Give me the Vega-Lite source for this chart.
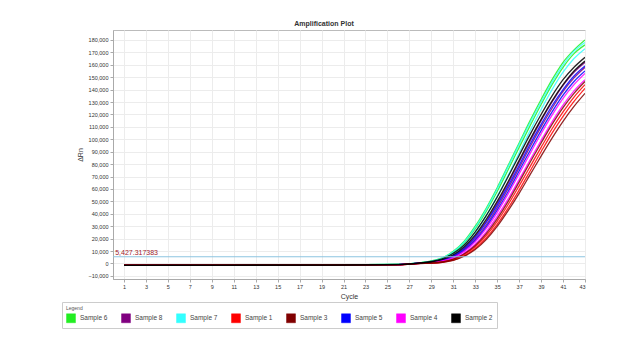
{
  "$schema": "https://vega.github.io/schema/vega-lite/v6.json",
  "width": 472,
  "height": 249,
  "autosize": {"type": "none"},
  "padding": {"left": 113, "top": 30, "right": 59, "bottom": 68},
  "background": "white",
  "title": {"text": "Amplification Plot", "fontSize": 7, "fontWeight": "bold", "color": "#333", "font": "Liberation Sans", "anchor": "middle", "dx": -25, "offset": 3},
  "config": {
    "font": "Liberation Sans",
    "view": {"stroke": "#bbbbbb", "strokeWidth": 1},
    "axis": {"labelFontSize": 6, "labelColor": "#333", "titleFontSize": 7, "titleColor": "#333", "titleFontWeight": "normal", "domainColor": "#aaa", "tickColor": "#aaa", "tickSize": 3, "gridColor": "#ececec", "gridWidth": 1}
  },
  "datasets": {
    "runs": [
      {"s":"Sample 6","r":"a","c":1,"v":-1400},{"s":"Sample 6","r":"a","c":10,"v":-1300},{"s":"Sample 6","r":"a","c":20,"v":-1200},{"s":"Sample 6","r":"a","c":26,"v":-700},
      {"s":"Sample 6","r":"a","c":28,"v":700},{"s":"Sample 6","r":"a","c":29,"v":2000},{"s":"Sample 6","r":"a","c":30,"v":4600},{"s":"Sample 6","r":"a","c":31,"v":9800},{"s":"Sample 6","r":"a","c":32,"v":18000},{"s":"Sample 6","r":"a","c":33,"v":30000},{"s":"Sample 6","r":"a","c":34,"v":44500},{"s":"Sample 6","r":"a","c":35,"v":61000},{"s":"Sample 6","r":"a","c":36,"v":79000},{"s":"Sample 6","r":"a","c":37,"v":97000},{"s":"Sample 6","r":"a","c":38,"v":115000},{"s":"Sample 6","r":"a","c":39,"v":132000},{"s":"Sample 6","r":"a","c":40,"v":148000},{"s":"Sample 6","r":"a","c":41,"v":162000},{"s":"Sample 6","r":"a","c":42,"v":172000},{"s":"Sample 6","r":"a","c":43,"v":180000},
      {"s":"Sample 6","r":"b","c":1,"v":-1300},{"s":"Sample 6","r":"b","c":10,"v":-1250},{"s":"Sample 6","r":"b","c":20,"v":-1150},{"s":"Sample 6","r":"b","c":26,"v":-750},
      {"s":"Sample 6","r":"b","c":28,"v":600},{"s":"Sample 6","r":"b","c":29,"v":1700},{"s":"Sample 6","r":"b","c":30,"v":4000},{"s":"Sample 6","r":"b","c":31,"v":8800},{"s":"Sample 6","r":"b","c":32,"v":16500},{"s":"Sample 6","r":"b","c":33,"v":28000},{"s":"Sample 6","r":"b","c":34,"v":42000},{"s":"Sample 6","r":"b","c":35,"v":58000},{"s":"Sample 6","r":"b","c":36,"v":75500},{"s":"Sample 6","r":"b","c":37,"v":93500},{"s":"Sample 6","r":"b","c":38,"v":111000},{"s":"Sample 6","r":"b","c":39,"v":128000},{"s":"Sample 6","r":"b","c":40,"v":144000},{"s":"Sample 6","r":"b","c":41,"v":158000},{"s":"Sample 6","r":"b","c":42,"v":169000},{"s":"Sample 6","r":"b","c":43,"v":176000},
      {"s":"Sample 7","r":"a","c":1,"v":-1350},{"s":"Sample 7","r":"a","c":10,"v":-1300},{"s":"Sample 7","r":"a","c":20,"v":-1200},{"s":"Sample 7","r":"a","c":26,"v":-700},
      {"s":"Sample 7","r":"a","c":28,"v":650},{"s":"Sample 7","r":"a","c":29,"v":1900},{"s":"Sample 7","r":"a","c":30,"v":4400},{"s":"Sample 7","r":"a","c":31,"v":9400},{"s":"Sample 7","r":"a","c":32,"v":17300},{"s":"Sample 7","r":"a","c":33,"v":29000},{"s":"Sample 7","r":"a","c":34,"v":43500},{"s":"Sample 7","r":"a","c":35,"v":60000},{"s":"Sample 7","r":"a","c":36,"v":78000},{"s":"Sample 7","r":"a","c":37,"v":96000},{"s":"Sample 7","r":"a","c":38,"v":113500},{"s":"Sample 7","r":"a","c":39,"v":130000},{"s":"Sample 7","r":"a","c":40,"v":146000},{"s":"Sample 7","r":"a","c":41,"v":160000},{"s":"Sample 7","r":"a","c":42,"v":171000},{"s":"Sample 7","r":"a","c":43,"v":178000},
      {"s":"Sample 7","r":"b","c":1,"v":-1250},{"s":"Sample 7","r":"b","c":10,"v":-1200},{"s":"Sample 7","r":"b","c":20,"v":-1100},{"s":"Sample 7","r":"b","c":26,"v":-800},
      {"s":"Sample 7","r":"b","c":28,"v":500},{"s":"Sample 7","r":"b","c":29,"v":1400},{"s":"Sample 7","r":"b","c":30,"v":3400},{"s":"Sample 7","r":"b","c":31,"v":7600},{"s":"Sample 7","r":"b","c":32,"v":14500},{"s":"Sample 7","r":"b","c":33,"v":25000},{"s":"Sample 7","r":"b","c":34,"v":38500},{"s":"Sample 7","r":"b","c":35,"v":54000},{"s":"Sample 7","r":"b","c":36,"v":71000},{"s":"Sample 7","r":"b","c":37,"v":89000},{"s":"Sample 7","r":"b","c":38,"v":107000},{"s":"Sample 7","r":"b","c":39,"v":124000},{"s":"Sample 7","r":"b","c":40,"v":140000},{"s":"Sample 7","r":"b","c":41,"v":154000},{"s":"Sample 7","r":"b","c":42,"v":165000},{"s":"Sample 7","r":"b","c":43,"v":173000},
      {"s":"Sample 8","r":"a","c":1,"v":-1450},{"s":"Sample 8","r":"a","c":10,"v":-1350},{"s":"Sample 8","r":"a","c":20,"v":-1250},{"s":"Sample 8","r":"a","c":26,"v":-850},
      {"s":"Sample 8","r":"a","c":28,"v":400},{"s":"Sample 8","r":"a","c":29,"v":1100},{"s":"Sample 8","r":"a","c":30,"v":2800},{"s":"Sample 8","r":"a","c":31,"v":6400},{"s":"Sample 8","r":"a","c":32,"v":12500},{"s":"Sample 8","r":"a","c":33,"v":22000},{"s":"Sample 8","r":"a","c":34,"v":34000},{"s":"Sample 8","r":"a","c":35,"v":48500},{"s":"Sample 8","r":"a","c":36,"v":64500},{"s":"Sample 8","r":"a","c":37,"v":81500},{"s":"Sample 8","r":"a","c":38,"v":98500},{"s":"Sample 8","r":"a","c":39,"v":115000},{"s":"Sample 8","r":"a","c":40,"v":130000},{"s":"Sample 8","r":"a","c":41,"v":143500},{"s":"Sample 8","r":"a","c":42,"v":154000},{"s":"Sample 8","r":"a","c":43,"v":162000},
      {"s":"Sample 8","r":"b","c":1,"v":-1300},{"s":"Sample 8","r":"b","c":10,"v":-1250},{"s":"Sample 8","r":"b","c":20,"v":-1200},{"s":"Sample 8","r":"b","c":26,"v":-900},
      {"s":"Sample 8","r":"b","c":28,"v":300},{"s":"Sample 8","r":"b","c":29,"v":900},{"s":"Sample 8","r":"b","c":30,"v":2300},{"s":"Sample 8","r":"b","c":31,"v":5500},{"s":"Sample 8","r":"b","c":32,"v":11000},{"s":"Sample 8","r":"b","c":33,"v":19500},{"s":"Sample 8","r":"b","c":34,"v":31000},{"s":"Sample 8","r":"b","c":35,"v":45000},{"s":"Sample 8","r":"b","c":36,"v":60500},{"s":"Sample 8","r":"b","c":37,"v":77000},{"s":"Sample 8","r":"b","c":38,"v":94000},{"s":"Sample 8","r":"b","c":39,"v":110000},{"s":"Sample 8","r":"b","c":40,"v":125000},{"s":"Sample 8","r":"b","c":41,"v":138500},{"s":"Sample 8","r":"b","c":42,"v":149500},{"s":"Sample 8","r":"b","c":43,"v":158000},
      {"s":"Sample 5","r":"a","c":1,"v":-1400},{"s":"Sample 5","r":"a","c":10,"v":-1300},{"s":"Sample 5","r":"a","c":20,"v":-1200},{"s":"Sample 5","r":"a","c":26,"v":-850},
      {"s":"Sample 5","r":"a","c":28,"v":350},{"s":"Sample 5","r":"a","c":29,"v":1000},{"s":"Sample 5","r":"a","c":30,"v":2600},{"s":"Sample 5","r":"a","c":31,"v":6000},{"s":"Sample 5","r":"a","c":32,"v":11800},{"s":"Sample 5","r":"a","c":33,"v":21000},{"s":"Sample 5","r":"a","c":34,"v":33000},{"s":"Sample 5","r":"a","c":35,"v":47000},{"s":"Sample 5","r":"a","c":36,"v":62500},{"s":"Sample 5","r":"a","c":37,"v":79000},{"s":"Sample 5","r":"a","c":38,"v":96000},{"s":"Sample 5","r":"a","c":39,"v":112000},{"s":"Sample 5","r":"a","c":40,"v":127000},{"s":"Sample 5","r":"a","c":41,"v":140000},{"s":"Sample 5","r":"a","c":42,"v":151000},{"s":"Sample 5","r":"a","c":43,"v":159000},
      {"s":"Sample 5","r":"b","c":1,"v":-1350},{"s":"Sample 5","r":"b","c":10,"v":-1300},{"s":"Sample 5","r":"b","c":20,"v":-1150},{"s":"Sample 5","r":"b","c":26,"v":-900},
      {"s":"Sample 5","r":"b","c":28,"v":250},{"s":"Sample 5","r":"b","c":29,"v":800},{"s":"Sample 5","r":"b","c":30,"v":2100},{"s":"Sample 5","r":"b","c":31,"v":5000},{"s":"Sample 5","r":"b","c":32,"v":10200},{"s":"Sample 5","r":"b","c":33,"v":18500},{"s":"Sample 5","r":"b","c":34,"v":29500},{"s":"Sample 5","r":"b","c":35,"v":43000},{"s":"Sample 5","r":"b","c":36,"v":58000},{"s":"Sample 5","r":"b","c":37,"v":74500},{"s":"Sample 5","r":"b","c":38,"v":91000},{"s":"Sample 5","r":"b","c":39,"v":107000},{"s":"Sample 5","r":"b","c":40,"v":122000},{"s":"Sample 5","r":"b","c":41,"v":135500},{"s":"Sample 5","r":"b","c":42,"v":146500},{"s":"Sample 5","r":"b","c":43,"v":155000},
      {"s":"Sample 4","r":"a","c":1,"v":-1300},{"s":"Sample 4","r":"a","c":10,"v":-1250},{"s":"Sample 4","r":"a","c":20,"v":-1150},{"s":"Sample 4","r":"a","c":26,"v":-900},
      {"s":"Sample 4","r":"a","c":28,"v":250},{"s":"Sample 4","r":"a","c":29,"v":750},{"s":"Sample 4","r":"a","c":30,"v":2000},{"s":"Sample 4","r":"a","c":31,"v":4800},{"s":"Sample 4","r":"a","c":32,"v":9800},{"s":"Sample 4","r":"a","c":33,"v":17500},{"s":"Sample 4","r":"a","c":34,"v":28000},{"s":"Sample 4","r":"a","c":35,"v":41000},{"s":"Sample 4","r":"a","c":36,"v":56000},{"s":"Sample 4","r":"a","c":37,"v":72000},{"s":"Sample 4","r":"a","c":38,"v":88500},{"s":"Sample 4","r":"a","c":39,"v":104500},{"s":"Sample 4","r":"a","c":40,"v":119500},{"s":"Sample 4","r":"a","c":41,"v":133000},{"s":"Sample 4","r":"a","c":42,"v":144000},{"s":"Sample 4","r":"a","c":43,"v":153000},
      {"s":"Sample 4","r":"b","c":1,"v":-1400},{"s":"Sample 4","r":"b","c":10,"v":-1350},{"s":"Sample 4","r":"b","c":20,"v":-1250},{"s":"Sample 4","r":"b","c":26,"v":-950},
      {"s":"Sample 4","r":"b","c":28,"v":150},{"s":"Sample 4","r":"b","c":29,"v":550},{"s":"Sample 4","r":"b","c":30,"v":1600},{"s":"Sample 4","r":"b","c":31,"v":4000},{"s":"Sample 4","r":"b","c":32,"v":8500},{"s":"Sample 4","r":"b","c":33,"v":15500},{"s":"Sample 4","r":"b","c":34,"v":25500},{"s":"Sample 4","r":"b","c":35,"v":38000},{"s":"Sample 4","r":"b","c":36,"v":52000},{"s":"Sample 4","r":"b","c":37,"v":67500},{"s":"Sample 4","r":"b","c":38,"v":83500},{"s":"Sample 4","r":"b","c":39,"v":99000},{"s":"Sample 4","r":"b","c":40,"v":114000},{"s":"Sample 4","r":"b","c":41,"v":127500},{"s":"Sample 4","r":"b","c":42,"v":139000},{"s":"Sample 4","r":"b","c":43,"v":148000},
      {"s":"Sample 1","r":"a","c":1,"v":-1350},{"s":"Sample 1","r":"a","c":10,"v":-1300},{"s":"Sample 1","r":"a","c":20,"v":-1200},{"s":"Sample 1","r":"a","c":26,"v":-1000},
      {"s":"Sample 1","r":"a","c":28,"v":100},{"s":"Sample 1","r":"a","c":29,"v":400},{"s":"Sample 1","r":"a","c":30,"v":1200},{"s":"Sample 1","r":"a","c":31,"v":3200},{"s":"Sample 1","r":"a","c":32,"v":7200},{"s":"Sample 1","r":"a","c":33,"v":13500},{"s":"Sample 1","r":"a","c":34,"v":22500},{"s":"Sample 1","r":"a","c":35,"v":34000},{"s":"Sample 1","r":"a","c":36,"v":47500},{"s":"Sample 1","r":"a","c":37,"v":62500},{"s":"Sample 1","r":"a","c":38,"v":78000},{"s":"Sample 1","r":"a","c":39,"v":93500},{"s":"Sample 1","r":"a","c":40,"v":108500},{"s":"Sample 1","r":"a","c":41,"v":122000},{"s":"Sample 1","r":"a","c":42,"v":134000},{"s":"Sample 1","r":"a","c":43,"v":144000},
      {"s":"Sample 1","r":"b","c":1,"v":-1250},{"s":"Sample 1","r":"b","c":10,"v":-1200},{"s":"Sample 1","r":"b","c":20,"v":-1150},{"s":"Sample 1","r":"b","c":26,"v":-1000},
      {"s":"Sample 1","r":"b","c":28,"v":50},{"s":"Sample 1","r":"b","c":29,"v":300},{"s":"Sample 1","r":"b","c":30,"v":1000},{"s":"Sample 1","r":"b","c":31,"v":2700},{"s":"Sample 1","r":"b","c":32,"v":6300},{"s":"Sample 1","r":"b","c":33,"v":12000},{"s":"Sample 1","r":"b","c":34,"v":20500},{"s":"Sample 1","r":"b","c":35,"v":31500},{"s":"Sample 1","r":"b","c":36,"v":44500},{"s":"Sample 1","r":"b","c":37,"v":59000},{"s":"Sample 1","r":"b","c":38,"v":74500},{"s":"Sample 1","r":"b","c":39,"v":90000},{"s":"Sample 1","r":"b","c":40,"v":105000},{"s":"Sample 1","r":"b","c":41,"v":118500},{"s":"Sample 1","r":"b","c":42,"v":130500},{"s":"Sample 1","r":"b","c":43,"v":141000},
      {"s":"Sample 3","r":"a","c":1,"v":-1400},{"s":"Sample 3","r":"a","c":10,"v":-1300},{"s":"Sample 3","r":"a","c":20,"v":-1250},{"s":"Sample 3","r":"a","c":26,"v":-950},
      {"s":"Sample 3","r":"a","c":28,"v":120},{"s":"Sample 3","r":"a","c":29,"v":450},{"s":"Sample 3","r":"a","c":30,"v":1300},{"s":"Sample 3","r":"a","c":31,"v":3500},{"s":"Sample 3","r":"a","c":32,"v":7800},{"s":"Sample 3","r":"a","c":33,"v":14500},{"s":"Sample 3","r":"a","c":34,"v":24000},{"s":"Sample 3","r":"a","c":35,"v":36000},{"s":"Sample 3","r":"a","c":36,"v":50000},{"s":"Sample 3","r":"a","c":37,"v":65500},{"s":"Sample 3","r":"a","c":38,"v":81500},{"s":"Sample 3","r":"a","c":39,"v":97000},{"s":"Sample 3","r":"a","c":40,"v":112000},{"s":"Sample 3","r":"a","c":41,"v":125500},{"s":"Sample 3","r":"a","c":42,"v":137000},{"s":"Sample 3","r":"a","c":43,"v":146500},
      {"s":"Sample 3","r":"b","c":1,"v":-1300},{"s":"Sample 3","r":"b","c":10,"v":-1250},{"s":"Sample 3","r":"b","c":20,"v":-1200},{"s":"Sample 3","r":"b","c":26,"v":-1050},
      {"s":"Sample 3","r":"b","c":28,"v":0},{"s":"Sample 3","r":"b","c":29,"v":250},{"s":"Sample 3","r":"b","c":30,"v":900},{"s":"Sample 3","r":"b","c":31,"v":2500},{"s":"Sample 3","r":"b","c":32,"v":5800},{"s":"Sample 3","r":"b","c":33,"v":11200},{"s":"Sample 3","r":"b","c":34,"v":19200},{"s":"Sample 3","r":"b","c":35,"v":29800},{"s":"Sample 3","r":"b","c":36,"v":42500},{"s":"Sample 3","r":"b","c":37,"v":56500},{"s":"Sample 3","r":"b","c":38,"v":71500},{"s":"Sample 3","r":"b","c":39,"v":86500},{"s":"Sample 3","r":"b","c":40,"v":101000},{"s":"Sample 3","r":"b","c":41,"v":114500},{"s":"Sample 3","r":"b","c":42,"v":126500},{"s":"Sample 3","r":"b","c":43,"v":137000},
      {"s":"Sample 2","r":"a","c":1,"v":-1500},{"s":"Sample 2","r":"a","c":10,"v":-1450},{"s":"Sample 2","r":"a","c":20,"v":-1350},{"s":"Sample 2","r":"a","c":26,"v":-800},
      {"s":"Sample 2","r":"a","c":28,"v":550},{"s":"Sample 2","r":"a","c":29,"v":1600},{"s":"Sample 2","r":"a","c":30,"v":3800},{"s":"Sample 2","r":"a","c":31,"v":8200},{"s":"Sample 2","r":"a","c":32,"v":15000},{"s":"Sample 2","r":"a","c":33,"v":25500},{"s":"Sample 2","r":"a","c":34,"v":38500},{"s":"Sample 2","r":"a","c":35,"v":53500},{"s":"Sample 2","r":"a","c":36,"v":70000},{"s":"Sample 2","r":"a","c":37,"v":87000},{"s":"Sample 2","r":"a","c":38,"v":104000},{"s":"Sample 2","r":"a","c":39,"v":120000},{"s":"Sample 2","r":"a","c":40,"v":135000},{"s":"Sample 2","r":"a","c":41,"v":148000},{"s":"Sample 2","r":"a","c":42,"v":158000},{"s":"Sample 2","r":"a","c":43,"v":166000},
      {"s":"Sample 2","r":"b","c":1,"v":-1450},{"s":"Sample 2","r":"b","c":10,"v":-1400},{"s":"Sample 2","r":"b","c":20,"v":-1300},{"s":"Sample 2","r":"b","c":26,"v":-850},
      {"s":"Sample 2","r":"b","c":28,"v":450},{"s":"Sample 2","r":"b","c":29,"v":1300},{"s":"Sample 2","r":"b","c":30,"v":3200},{"s":"Sample 2","r":"b","c":31,"v":7000},{"s":"Sample 2","r":"b","c":32,"v":13500},{"s":"Sample 2","r":"b","c":33,"v":23000},{"s":"Sample 2","r":"b","c":34,"v":35500},{"s":"Sample 2","r":"b","c":35,"v":50000},{"s":"Sample 2","r":"b","c":36,"v":66000},{"s":"Sample 2","r":"b","c":37,"v":83000},{"s":"Sample 2","r":"b","c":38,"v":100000},{"s":"Sample 2","r":"b","c":39,"v":116000},{"s":"Sample 2","r":"b","c":40,"v":131000},{"s":"Sample 2","r":"b","c":41,"v":144000},{"s":"Sample 2","r":"b","c":42,"v":155000},{"s":"Sample 2","r":"b","c":43,"v":163000}
    ],
    "threshold": [{"t": 5427.317383, "lbl": "5,427.317383"}]
  },
  "layer": [
    {
      "data": {"name": "runs"},
      "mark": {"type": "line", "interpolate": "monotone", "strokeWidth": 1.3, "opacity": 0.85, "clip": true},
      "encoding": {
        "x": {"field": "c", "type": "quantitative", "title": "Cycle",
              "scale": {"domain": [0, 43], "nice": false, "zero": false},
              "axis": {"values": [1,3,5,7,9,11,13,15,17,19,21,23,25,27,29,31,33,35,37,39,41,43], "tickCount": 60, "labelOverlap": false, "labelFontSize": 5.5, "labelPadding": 2, "titlePadding": 3}},
        "y": {"field": "v", "type": "quantitative", "title": "ΔRn",
              "scale": {"domain": [-12500, 188000], "nice": false, "zero": false},
              "axis": {"values": [-10000,0,10000,20000,30000,40000,50000,60000,70000,80000,90000,100000,110000,120000,130000,140000,150000,160000,170000,180000], "tickCount": 60, "format": ",.0f", "labelOverlap": false, "labelFontSize": 5.5, "labelPadding": 2, "titlePadding": 4}},
        "color": {"field": "s", "type": "nominal",
                  "scale": {"domain": ["Sample 6","Sample 8","Sample 7","Sample 1","Sample 3","Sample 5","Sample 4","Sample 2"],
                            "range": ["#22ee22","#800080","#33ffff","#ff0000","#800000","#0000ff","#ff00ff","#000000"]},
                  "legend": {"title": "Legend", "orient": "none", "legendX": -51, "legendY": 272, "direction": "horizontal", "columns": 8,
                             "symbolType": "square", "symbolSize": 80, "symbolStrokeWidth": 0.5, "symbolOpacity": 1,
                             "labelFontSize": 6.5, "labelColor": "#444", "titleFontSize": 5, "titleColor": "#555", "titleFontWeight": "normal", "titlePadding": 2,
                             "columnPadding": 12, "padding": 4, "strokeColor": "#cccccc", "fillColor": "white",
                             "encode": {"symbols": {"update": {"fill": {"scale": "color", "field": "value"}, "fillOpacity": {"value": 1}, "stroke": {"value": "#555555"}, "strokeWidth": {"value": 0.5}}}}}},
        "detail": {"field": "r"}
      }
    },
    {
      "data": {"name": "threshold"},
      "mark": {"type": "rule", "color": "#8cc4e0", "strokeWidth": 1.2},
      "encoding": {"y": {"field": "t", "type": "quantitative"}}
    },
    {
      "data": {"name": "threshold"},
      "mark": {"type": "text", "color": "#a01a2a", "fontSize": 7, "align": "left", "baseline": "bottom", "dy": -1},
      "encoding": {"x": {"datum": 0.2}, "y": {"field": "t", "type": "quantitative"}, "text": {"field": "lbl"}}
    }
  ]
}
